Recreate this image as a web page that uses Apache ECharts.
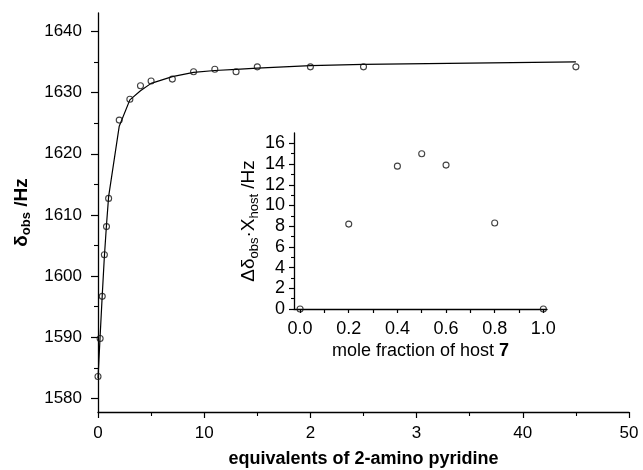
<!DOCTYPE html>
<html>
<head>
<meta charset="utf-8">
<script src="https://cdn.jsdelivr.net/npm/echarts@6/dist/echarts.min.js"></script>
<style>
html,body{margin:0;padding:0;background:#fff;}
#chart{width:643px;height:470px;}
</style>
</head>
<body>
<div id="chart"></div>
<script>
// titration curve
var equivData = [0, 0.2, 0.4, 0.6, 0.8, 1, 2, 3, 4, 5, 7, 9, 11, 13, 15, 20, 25, 45];
var shiftObs = [1583.6, 1589.8, 1596.7, 1603.5, 1608.1, 1612.7, 1625.5, 1628.9, 1631.1, 1631.9, 1632.2, 1633.4, 1633.8, 1633.4, 1634.2, 1634.2, 1634.2, 1634.2];
var shiftFit = [1583.3, 1590.2, 1596.9, 1603.2, 1608.4, 1613.0, 1624.5, 1628.8, 1630.3, 1631.5, 1632.6, 1633.3, 1633.6, 1633.8, 1634.0, 1634.4, 1634.6, 1635.0];

// job plot (inset)
var moleFrac = [0, 0.2, 0.4, 0.5, 0.6, 0.8, 1.0];
var jobValues = [0, 8.2, 13.8, 15.0, 13.9, 8.3, 0];

// ticks
var mainXTicks = [0, 10, 20, 30, 40, 50];
var mainXText = ['0', '10', '2', '3', '40', '50'];
var mainXMinor = [5, 15, 25, 35, 45];
var mainYTicks = [1580, 1590, 1600, 1610, 1620, 1630, 1640];
var mainYMinor = [1585, 1595, 1605, 1615, 1625, 1635];
var insetXTicks = [0, 0.2, 0.4, 0.6, 0.8, 1.0];
var insetXAllTicks = [0, 0.1, 0.2, 0.3, 0.4, 0.5, 0.6, 0.7, 0.8, 0.9, 1.0];
var insetYTicks = [0, 2, 4, 6, 8, 10, 12, 14, 16];
var insetYMinor = [1, 3, 5, 7, 9, 11, 13, 15];

var FONT = 'Liberation Sans, Arial, Helvetica, sans-serif';

function pairs(xs, ys){
	var out = [];
	for(var i=0;i<xs.length;i++){
		out.push([xs[i], ys[i]]);
	}
	return out;
}

// axis with labels + ticks at custom values
function axis(grid, pos, min, max, ticks, tickLen, labelSize, margin, fmt){
	return {
		type : 'value',
		gridIndex : grid,
		position : pos,
		min : min,
		max : max,
		axisLine : {show: true, onZero: false, lineStyle: {color: '#000', width: 1.3}},
		axisTick : {show: true, inside: false, length: tickLen, customValues: ticks, lineStyle: {color: '#000', width: 1.2}},
		axisLabel : {show: true, customValues: ticks, color: '#000', fontFamily: FONT, fontSize: labelSize, margin: margin,
			formatter: fmt || function(v){ return String(v); }},
		splitLine : {show: false}
	};
}
// hidden twin axis that only draws the short minor ticks
function minorAxis(grid, pos, min, max, ticks, tickLen){
	return {
		type : 'value',
		gridIndex : grid,
		position : pos,
		min : min,
		max : max,
		axisLine : {show: false, onZero: false},
		axisTick : {show: true, inside: false, length: tickLen, customValues: ticks, lineStyle: {color: '#000', width: 1.1}},
		axisLabel : {show: false},
		splitLine : {show: false}
	};
}

// x tick labels are printed as in the original figure
function mainXFormatter(v, index){
	var n = Number(v);
	for(var i=0;i<mainXTicks.length;i++){
		if(Math.abs(mainXTicks[i] - n) < 1e-6){
			return mainXText[i];
		}
	}
	if(typeof index == 'number' && mainXText[index] != null){
		return mainXText[index];
	}
	return String(v);
}

var mainX = axis(0, 'bottom', 0, 50, mainXTicks, 6, 17, 13, mainXFormatter);
mainX.name = 'equivalents of 2-amino pyridine';
mainX.nameLocation = 'middle';
mainX.nameGap = 38;
mainX.nameTextStyle = {color: '#000', fontFamily: FONT, fontSize: 18, fontWeight: 'bold'};

var mainY = axis(0, 'left', 1577.8, 1643, mainYTicks, 7, 17, 16);
mainY.name = '{b|δ}{s|obs}{b| /Hz}';
mainY.nameLocation = 'middle';
mainY.nameRotate = 90;
mainY.nameGap = 57;
mainY.nameTextStyle = {
	color: '#000',
	rich: {
		b: {fontFamily: FONT, fontSize: 19, fontWeight: 'bold', color: '#000', lineHeight: 24},
		s: {fontFamily: FONT, fontSize: 13, fontWeight: 'bold', color: '#000', lineHeight: 24, verticalAlign: 'bottom'}
	}
};

var insetX = axis(1, 'bottom', -0.025, 1.015, insetXAllTicks, 4, 18, 11, function(v){ return Number(v).toFixed(1); });
insetX.axisLabel.customValues = insetXTicks;
insetX.name = '{n|mole fraction of host }{b|7}';
insetX.nameLocation = 'middle';
insetX.nameGap = 33;
insetX.nameTextStyle = {
	rich: {
		n: {fontFamily: FONT, fontSize: 18, color: '#000'},
		b: {fontFamily: FONT, fontSize: 18, fontWeight: 'bold', color: '#000'}
	}
};

var insetY = axis(1, 'left', 0, 17, insetYTicks, 5, 18, 9);
insetY.name = '{n|Δδ}{s|obs}{n|·X}{s|host}{n| /Hz}';
insetY.nameLocation = 'middle';
insetY.nameRotate = 90;
insetY.nameGap = 31;
insetY.nameTextStyle = {
	rich: {
		n: {fontFamily: FONT, fontSize: 19, color: '#000', lineHeight: 24},
		s: {fontFamily: FONT, fontSize: 13, color: '#000', lineHeight: 24, verticalAlign: 'bottom'}
	}
};

var option = {
	backgroundColor : '#fff',
	animation : false,
	grid : [
		{left: 98, right: 14, top: 13, bottom: 58, outerBoundsMode: 'none'},
		{left: 294, right: 96, top: 133, bottom: 161, outerBoundsMode: 'none'}
	],
	xAxis : [
		mainX,
		minorAxis(0, 'bottom', 0, 50, mainXMinor, 4),
		insetX
	],
	yAxis : [
		mainY,
		minorAxis(0, 'left', 1577.8, 1643, mainYMinor, 4),
		insetY,
		minorAxis(1, 'left', 0, 17, insetYMinor, 3)
	],
	series : [
		{
			name : 'fit',
			type : 'line',
			xAxisIndex : 0,
			yAxisIndex : 0,
			data : pairs(equivData, shiftFit),
			showSymbol : false,
			silent : true,
			lineStyle : {color: '#000', width: 1.2},
			z : 2
		},
		{
			name : 'obs',
			type : 'scatter',
			xAxisIndex : 0,
			yAxisIndex : 0,
			data : pairs(equivData, shiftObs),
			symbol : 'circle',
			symbolSize : 6,
			itemStyle : {color: 'rgba(0,0,0,0)', borderColor: '#111', borderWidth: 1.1},
			z : 3
		},
		{
			name : 'job',
			type : 'scatter',
			xAxisIndex : 2,
			yAxisIndex : 2,
			data : pairs(moleFrac, jobValues),
			symbol : 'circle',
			symbolSize : 6,
			itemStyle : {color: 'rgba(0,0,0,0)', borderColor: '#111', borderWidth: 1.1},
			z : 3
		}
	]
};

var myChart = echarts.init(document.getElementById('chart'));
myChart.setOption(option);
</script>
</body>
</html>
